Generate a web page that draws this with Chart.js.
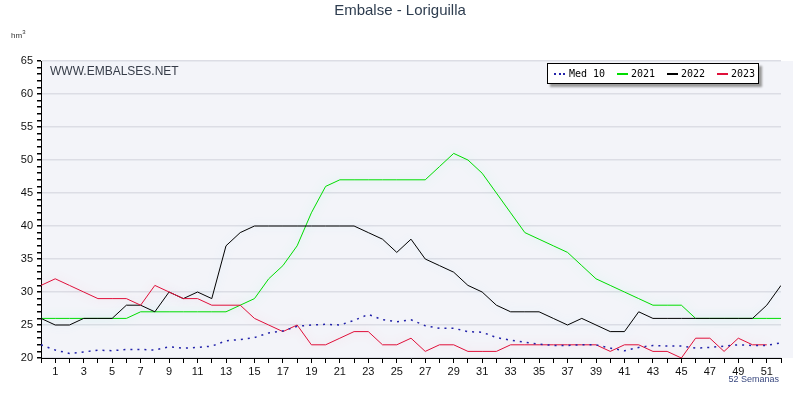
<!DOCTYPE html>
<html>
<head>
<meta charset="utf-8">
<script src="https://cdn.jsdelivr.net/npm/chart.js@4.4.0/dist/chart.umd.min.js"></script>
<style>
  body { margin: 0; background: #fff; }
  #wrap { position: relative; width: 800px; height: 418px; font-family: "Liberation Sans", Arial, sans-serif; }
  #chart { position: absolute; left: 0; top: 0; }
  .txt { position: absolute; white-space: nowrap; }
  #title { left: 0; width: 800px; top: 1px; text-align: center; font-size: 15px; color: #2e3d4f; }
  #unit { left: 11px; top: 29px; font-size: 8px; color: #333; }
  #web { left: 50px; top: 64px; font-size: 12px; color: #363c48; }
  #weeks { right: 21px; top: 374px; font-size: 9px; color: #3b4a80; }
  #legend { position: absolute; left: 547px; top: 63px; width: 210px; height: 19px; background: #fff;
            border: 1px solid #000; box-shadow: 3px 3px 2px #9a9a9a; font-family: "DejaVu Sans Mono", monospace; font-size: 10px; }
  #legend span { position: absolute; top: 4px; }
  #legend i { position: absolute; top: 9px; height: 2px; width: 11px; }
</style>
</head>
<body>
<div id="wrap">
  <canvas id="chart" width="800" height="418"></canvas>
  <div class="txt" id="title">Embalse - Loriguilla</div>
  <div class="txt" id="unit">hm<sup style="font-size:6px">3</sup></div>
  <div class="txt" id="web">WWW.EMBALSES.NET</div>
  <div class="txt" id="weeks">52 Semanas</div>
  <div id="legend">
    <i style="left:6px;height:0;border-top:2px dotted #2222aa;top:9px"></i><span style="left:21px">Med 10</span>
    <i style="left:69px;background:#00dd00"></i><span style="left:83px">2021</span>
    <i style="left:119px;background:#000"></i><span style="left:133px">2022</span>
    <i style="left:169px;background:#e0103a"></i><span style="left:183px">2023</span>
  </div>
</div>
<script>
// weeks of the hydrological year
const weeks = [0, 1, 2, 3, 4, 5, 6, 7, 8, 9, 10, 11, 12, 13, 14, 15, 16, 17, 18, 19, 20, 21, 22, 23, 24, 25, 26,
  27, 28, 29, 30, 31, 32, 33, 34, 35, 36, 37, 38, 39, 40, 41, 42, 43, 44, 45, 46, 47, 48, 49, 50, 51, 52];

// stored volume, hm3
const med10 = [22.0, 21.2, 20.7, 20.9, 21.2, 21.1, 21.3, 21.3, 21.2, 21.7, 21.5, 21.6, 21.8, 22.6, 22.8, 23.1,
  23.8, 24.1, 24.8, 25.0, 25.1, 25.0, 25.7, 26.6, 25.8, 25.5, 25.8, 24.9, 24.5, 24.5, 24.0, 23.9, 23.1, 22.7,
  22.4, 22.1, 21.9, 21.9, 22.0, 22.0, 21.5, 21.1, 21.6, 21.9, 21.8, 21.8, 21.5, 21.6, 21.8, 22.0, 21.9, 21.9, 22.3];
const y2021 = [26, 26, 26, 26, 26, 26, 26, 27, 27, 27, 27, 27, 27, 27, 28, 29, 32, 34, 37, 42, 46, 47, 47, 47,
  47, 47, 47, 47, 49, 51, 50, 48, 45, 42, 39, 38, 37, 36, 34, 32, 31, 30, 29, 28, 28, 28, 26, 26, 26, 26, 26, 26, 26];
const y2022 = [26, 25, 25, 26, 26, 26, 28, 28, 27, 30, 29, 30, 29, 37, 39, 40, 40, 40, 40, 40, 40, 40, 40, 39,
  38, 36, 38, 35, 34, 33, 31, 30, 28, 27, 27, 27, 26, 25, 26, 25, 24, 24, 27, 26, 26, 26, 26, 26, 26, 26, 26, 28, 31];
const y2023 = [31, 32, 31, 30, 29, 29, 29, 28, 31, 30, 29, 29, 28, 28, 28, 26, 25, 24, 25, 22, 22, 23, 24, 24,
  22, 22, 23, 21, 22, 22, 21, 21, 21, 22, 22, 22, 22, 22, 22, 22, 21, 22, 22, 21, 21, 20, 23, 23, 21, 23, 22, 22];

// light panel behind the plot
const panelBg = {
  id: "panelBg",
  beforeDraw(chart) {
    const { ctx, chartArea: a } = chart;
    ctx.save();
    ctx.fillStyle = "#f3f4f9";
    ctx.fillRect(a.left, a.top, a.right - a.left + 12, a.bottom - a.top);
    ctx.restore();
  },
};

// soft glow under each line
const glow = {
  id: "glow",
  beforeDatasetDraw(chart, args) {
    const ds = chart.data.datasets[args.index];
    chart.ctx.save();
    chart.ctx.shadowColor = ds.glowColor;
    chart.ctx.shadowBlur = 8;
  },
  afterDatasetDraw(chart) {
    chart.ctx.restore();
  },
};

function makeLine(label, data, color, extra) {
  return Object.assign({
    label: label,
    data: data,
    borderColor: color,
    borderWidth: 1,
    pointRadius: 0,
    tension: 0,
    fill: false,
  }, extra);
}

new Chart(document.getElementById("chart"), {
  type: "line",
  data: {
    labels: weeks,
    datasets: [
      makeLine("Med 10", med10, "#2222aa", { borderDash: [2, 5], borderWidth: 1.5, glowColor: "rgba(0,0,0,0)" }),
      makeLine("2023", y2023, "#e0103a", { glowColor: "rgba(255,120,140,0.35)" }),
      makeLine("2022", y2022, "#000000", { glowColor: "rgba(120,220,255,0.25)" }),
      makeLine("2021", y2021, "#00dd00", { glowColor: "rgba(120,255,200,0.5)" }),
    ],
  },
  options: {
    responsive: false,
    animation: false,
    layout: { padding: { top: 61, right: 19, left: 0, bottom: 0 } },
    plugins: { legend: { display: false }, title: { display: false }, tooltip: { enabled: false } },
    scales: {
      x: {
        type: "linear",
        min: 0,
        max: 52,
        afterFit(scale) { scale.height = 60; },
        border: { color: "#000", width: 1 },
        grid: { drawOnChartArea: false, tickColor: "#000", tickLength: 5 },
        ticks: {
          stepSize: 1,
          autoSkip: false,
          maxTicksLimit: 100,
          maxRotation: 0,
          padding: 2,
          color: "#111",
          font: { family: "Liberation Sans", size: 11 },
          callback: (v) => (v % 2 === 1 ? v : ""),
        },
      },
      y: {
        min: 20,
        max: 65,
        afterFit(scale) { scale.width = 41; },
        border: { color: "#000", width: 1 },
        grid: {
          color: (c) => (c.tick && c.tick.value % 5 === 0 ? "#dcdde5" : "rgba(0,0,0,0)"),
          lineWidth: 1.5,
          tickColor: "#000",
          tickLength: 4,
        },
        ticks: {
          stepSize: 1,
          autoSkip: false,
          maxTicksLimit: 100,
          padding: 4,
          color: "#111",
          font: { family: "Liberation Sans", size: 11 },
          callback: (v) => (v % 5 === 0 ? v : ""),
        },
      },
    },
  },
  plugins: [panelBg, glow],
});
</script>
</body>
</html>
